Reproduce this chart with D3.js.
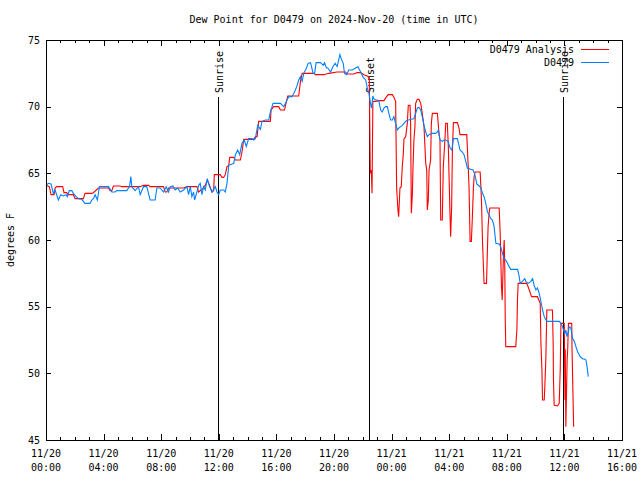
<!DOCTYPE html>
<html><head><meta charset="utf-8">
<script src="https://cdn.jsdelivr.net/npm/d3@7/dist/d3.min.js"></script>
<style>
body{margin:0;background:#fff;}
svg text{font-family:"DejaVu Sans Mono",monospace;font-size:10px;fill:#000;}
</style></head>
<body><svg id="c" width="640" height="480"></svg>
<script>
// hours since 2024-11-20 00:00 UTC
const title = "Dew Point for D0479 on 2024-Nov-20 (time in UTC)";
const yLabel = "degrees F";
const xTickHours = [0,4,8,12,16,20,24,28,32,36,40];
const xTickDates = ["11/20","11/20","11/20","11/20","11/20","11/20","11/21","11/21","11/21","11/21","11/21"];
const xTickTimes = ["00:00","04:00","08:00","12:00","16:00","20:00","00:00","04:00","08:00","12:00","16:00"];
const yTicks = [45,50,55,60,65,70,75];
const sunEvents = ["Sunrise","Sunset","Sunrise"];
const sunHours = [11.93, 22.42, 35.92];
const seriesNames = ["D0479 Analysis","D0479"];

const analysisHours = [0,0.23,0.35,0.56,0.63,0.74,1.16,1.25,1.44,1.55,1.9,2.02,2.6,2.71,3.18,3.29,3.64,4.34,4.45,4.57,4.68,5.15,5.26,6.54,6.77,7.12,7.23,8.16,8.28,8.39,8.51,9.55,9.79,10.48,10.6,10.94,11.06,11.2,11.39,11.53,11.64,11.69,12.1,12.22,12.34,12.45,12.57,12.69,12.76,13.04,13.15,13.5,13.61,13.73,14.42,14.54,14.66,14.77,15.58,15.63,15.81,16.16,16.28,16.56,16.7,16.79,17.55,17.67,17.79,18.6,18.71,19.29,19.64,20.22,20.8,20.91,21.38,21.5,21.6,21.85,22.08,22.31,22.45,22.52,22.59,22.64,22.7,22.89,23.12,23.47,23.65,23.77,24.05,24.16,24.28,24.35,24.44,24.49,24.58,24.67,24.74,24.81,24.86,24.98,25.09,25.16,25.28,25.32,25.37,25.44,25.48,25.55,25.62,25.67,25.79,25.9,26.02,26.13,26.25,26.37,26.44,26.48,26.55,26.6,26.71,26.76,26.83,27.18,27.29,27.36,27.41,27.52,27.59,27.69,27.76,27.87,27.94,27.99,28.06,28.1,28.17,28.22,28.29,28.57,28.68,28.75,29.22,29.31,29.38,29.45,29.54,29.61,29.68,29.73,29.8,30.0,30.15,30.19,30.24,30.31,30.38,30.42,30.59,30.66,30.7,30.77,30.82,31.47,31.54,31.58,31.63,31.68,31.72,31.77,31.82,31.86,31.89,31.93,32.62,32.7,32.74,32.79,33.37,33.44,33.56,33.72,34.13,34.32,34.37,34.44,34.48,34.6,34.64,34.71,34.78,35.17,35.22,35.24,35.29,35.52,35.64,35.71,35.76,35.99,36.04,36.06,36.1,36.19,36.23,36.28,36.51,36.53,36.57,36.64];
const analysisValues = [64.1,64.0,63.4,63.4,63.9,64.0,64.0,63.55,63.55,63.4,63.4,63.1,63.1,63.5,63.5,63.55,63.9,63.9,63.7,63.7,64.05,64.05,64.0,64.0,64.1,64.1,64.0,64.0,63.6,63.6,63.9,63.9,64.0,64.0,63.6,63.9,64.1,64.5,64.0,63.6,63.7,64.9,64.9,64.7,64.7,64.9,65.5,65.6,66.2,66.2,66.0,66.0,66.6,67.55,67.55,67.75,67.75,68.9,68.9,69.75,70.0,70.0,69.75,69.75,70.4,70.8,70.8,71.9,72.5,72.5,72.4,72.4,72.5,72.6,72.6,72.45,72.45,72.5,72.55,72.55,72.4,72.3,72.2,65.0,65.25,63.5,70.4,70.4,70.45,70.45,70.75,70.9,70.9,70.7,70.4,63.9,62.25,61.75,63.9,64.0,65.5,66.4,67.6,67.75,68.75,70.1,70.1,68.75,62.0,63.4,65.25,67.5,68.5,70.25,70.55,70.55,70.25,69.5,68.5,65.75,65.25,62.25,63.0,65.25,66.0,68.75,69.5,69.5,68.0,67.5,61.5,61.5,65.5,67.25,68.75,68.75,67.0,64.75,61.75,60.25,62.5,66.6,68.8,68.8,68.4,67.9,67.9,65.75,63.9,59.9,59.9,61.75,63.9,64.75,65.1,65.1,65.1,64.25,63.0,60.0,57.9,56.75,56.75,59.5,61.0,62.0,62.4,62.4,60.5,58.75,56.5,55.5,57.0,59.0,60.0,58.0,54.25,52.0,52.0,53.25,55.5,56.75,56.75,56.6,56.25,55.75,55.75,55.25,52.25,50.25,48.0,48.0,49.0,51.0,54.75,54.75,52.25,49.5,47.6,47.55,47.75,50.25,53.75,53.75,48.0,51.8,46.0,51.0,51.8,53.75,53.75,51.8,49.75,46.0];

const obsHours = [0,0.16,0.35,0.51,0.63,0.86,1.02,1.2,1.39,1.48,1.62,1.79,1.9,2.09,2.25,2.48,2.71,3.06,3.18,3.29,3.41,3.57,3.71,3.99,4.34,4.57,4.8,4.92,5.61,5.8,5.89,5.96,6.19,6.42,6.54,6.77,7.0,7.23,7.58,7.7,7.93,8.16,8.35,8.51,8.63,8.81,8.97,9.14,9.32,9.55,9.79,9.9,10.02,10.13,10.25,10.32,10.48,10.6,10.71,10.83,10.94,11.06,11.2,11.36,11.53,11.76,11.87,11.99,12.1,12.34,12.45,12.57,12.69,13.04,13.15,13.31,13.45,13.61,13.77,13.91,14.07,14.31,14.42,14.54,14.7,14.89,15.0,15.24,15.47,15.58,15.7,15.77,16.28,16.51,16.63,16.74,16.86,17.09,17.21,17.32,17.44,17.55,17.67,17.79,17.9,18.09,18.2,18.37,18.55,18.65,18.76,19.06,19.25,19.34,19.48,19.57,19.76,19.92,20.08,20.22,20.41,20.5,20.64,20.73,20.87,21.03,21.27,21.5,21.66,21.85,22.03,22.2,22.31,22.43,22.54,22.61,22.7,22.77,22.89,23.0,23.12,23.24,23.35,23.47,23.58,23.7,23.81,23.93,24.05,24.16,24.28,24.39,24.51,24.63,24.74,24.86,24.98,25.09,25.21,25.32,25.55,25.67,25.79,25.9,26.02,26.13,26.25,26.37,26.48,26.6,26.71,26.83,27.06,27.18,27.25,27.36,27.52,27.64,27.76,27.92,28.06,28.18,28.29,28.57,28.68,28.75,28.91,29.03,29.15,29.26,29.5,29.66,29.78,29.92,30.08,30.19,30.31,30.42,30.54,30.66,30.77,30.89,31.0,31.12,31.24,31.47,31.58,31.7,31.82,31.93,32.05,32.16,32.28,32.75,32.86,32.93,33.09,33.25,33.32,33.48,33.67,33.79,33.9,34.02,34.13,34.25,34.37,34.48,34.6,34.78,34.95,35.64,35.76,35.87,35.94,36.03,36.1,36.17,36.27,36.34,36.45,36.57,36.69,36.8,36.92,37.1,37.26,37.43,37.5,37.57,37.66];
const obsValues = [64.1,64.25,64.2,63.5,63.75,63.0,63.4,63.3,63.4,63.25,63.7,63.7,63.5,63.25,63.1,63.05,62.75,62.75,63.0,63.1,63.4,63.0,64.0,64.0,64.0,63.6,63.6,63.7,63.7,64.0,64.75,64.0,63.7,64.0,63.4,64.0,64.0,63.0,63.0,63.9,63.9,63.6,64.0,63.6,64.0,64.05,63.75,63.9,63.6,63.75,64.0,63.4,64.0,63.25,63.6,63.0,63.6,64.1,64.25,63.4,64.0,63.75,64.6,64.0,63.6,64.0,63.6,63.4,63.75,63.75,63.6,64.25,65.6,65.75,66.4,66.75,66.4,67.25,67.5,67.0,67.6,67.6,67.5,67.6,68.6,68.3,68.9,69.0,69.0,69.6,70.0,70.25,70.25,70.0,70.25,70.5,70.75,70.75,71.0,71.25,71.6,72.0,72.25,71.9,72.5,72.9,73.25,73.3,72.5,72.5,73.3,73.3,73.1,73.3,72.9,72.9,72.6,73.0,73.25,73.0,73.9,73.6,73.25,72.5,72.4,72.75,72.75,72.9,73.0,72.6,72.2,72.0,71.4,71.0,70.2,69.9,70.8,70.6,70.5,70.5,70.4,69.75,69.6,69.9,70.0,70.0,69.5,69.0,69.0,69.25,68.75,68.25,68.4,68.5,68.6,68.75,68.9,69.0,69.0,69.05,69.1,69.5,69.9,69.95,69.75,69.25,68.6,68.1,67.75,67.9,67.95,68.0,68.0,68.1,68.25,67.5,67.4,67.5,67.5,67.4,66.9,66.75,67.6,67.6,67.1,66.75,66.6,66.4,65.9,65.4,65.3,65.25,64.9,64.2,64.05,63.95,63.5,63.25,62.75,62.1,61.9,61.6,61.5,61.0,59.75,59.7,59.5,59.0,58.6,58.5,58.25,58.0,57.8,57.8,57.25,56.75,56.9,57.1,56.9,56.75,56.9,57.1,56.6,56.25,56.4,56.0,55.4,54.75,54.25,53.9,53.9,53.9,53.75,53.5,53.25,53.0,53.25,52.75,53.1,53.5,53.4,52.6,52.4,52.0,51.6,51.25,51.1,51.05,51.0,50.5,49.75];

const L = 46, R = 622, T = 40, B = 440;
const svg = d3.select("#c");
const x = d3.scaleLinear().domain([0,40]).range([L,R]);
const y = d3.scaleLinear().domain([45,75]).range([B,T]);

// sunrise/sunset lines
sunHours.forEach((h,i)=>{
  const xp = Math.round(x(h))+0.5;
  svg.append("line").attr("x1",xp).attr("x2",xp).attr("y1",97).attr("y2",B)
    .attr("stroke","#000").attr("stroke-width",1).attr("shape-rendering","crispEdges");
  svg.append("text").attr("transform",`translate(${xp+1},93) rotate(-90)`)
    .attr("text-anchor","start").attr("dominant-baseline","middle").text(sunEvents[i]);
});

// data lines
const line = d3.line().x(d=>x(d[0])).y(d=>y(d[1]));
const aData = analysisHours.map((h,i)=>[h,analysisValues[i]]);
const oData = obsHours.map((h,i)=>[h,obsValues[i]]);
svg.append("path").datum(aData).attr("d",line).attr("fill","none").attr("stroke","#ff0000").attr("stroke-width",1.1);
svg.append("path").datum(oData).attr("d",line).attr("fill","none").attr("stroke","#0080ff").attr("stroke-width",1.1);

// axes with inward ticks
const g = svg.append("g").attr("shape-rendering","crispEdges");
g.append("g").attr("transform",`translate(0,${B})`)
  .call(d3.axisBottom(x).tickValues(d3.range(0,41,1)).tickSize(-3).tickFormat(()=>"").tickSizeOuter(0));
g.append("g").attr("transform",`translate(0,${B})`)
  .call(d3.axisBottom(x).tickValues(xTickHours).tickSize(-6).tickFormat(()=>"").tickSizeOuter(0));
g.append("g").attr("transform",`translate(0,${T})`)
  .call(d3.axisTop(x).tickValues(d3.range(0,41,1)).tickSize(-3).tickFormat(()=>"").tickSizeOuter(0));
g.append("g").attr("transform",`translate(0,${T})`)
  .call(d3.axisTop(x).tickValues(xTickHours).tickSize(-6).tickFormat(()=>"").tickSizeOuter(0));
g.append("g").attr("transform",`translate(${L},0)`)
  .call(d3.axisLeft(y).tickValues(yTicks).tickSize(-5).tickFormat(()=>"").tickSizeOuter(0));
g.append("g").attr("transform",`translate(${R},0)`)
  .call(d3.axisRight(y).tickValues(yTicks).tickSize(-5).tickFormat(()=>"").tickSizeOuter(0));
g.selectAll(".domain").remove();
g.selectAll("line").attr("stroke","#000");
g.append("rect").attr("x",L+0.5).attr("y",T+0.5).attr("width",R-L).attr("height",B-T)
  .attr("fill","none").attr("stroke","#000");

// tick labels
yTicks.forEach(v=>{
  svg.append("text").attr("x",40).attr("y",y(v)).attr("text-anchor","end")
    .attr("dominant-baseline","central").text(v);
});
xTickHours.forEach((h,i)=>{
  svg.append("text").attr("x",x(h)).attr("y",457).attr("text-anchor","middle").text(xTickDates[i]);
  svg.append("text").attr("x",x(h)).attr("y",471).attr("text-anchor","middle").text(xTickTimes[i]);
});

// title & y label
svg.append("text").attr("x",(L+R)/2).attr("y",23).attr("text-anchor","middle").text(title);
svg.append("text").attr("transform",`translate(14,${(T+B)/2}) rotate(-90)`)
  .attr("text-anchor","middle").text(yLabel);

// legend
const colors = ["#ff0000","#0080ff"];
seriesNames.forEach((n,i)=>{
  const yy = 49 + i*13;
  svg.append("text").attr("x",574).attr("y",yy).attr("text-anchor","end")
    .attr("dominant-baseline","central").text(n);
  svg.append("line").attr("x1",581).attr("x2",609).attr("y1",yy+0.5).attr("y2",yy+0.5)
    .attr("stroke",colors[i]).attr("stroke-width",1).attr("shape-rendering","crispEdges");
});
</script></body></html>
